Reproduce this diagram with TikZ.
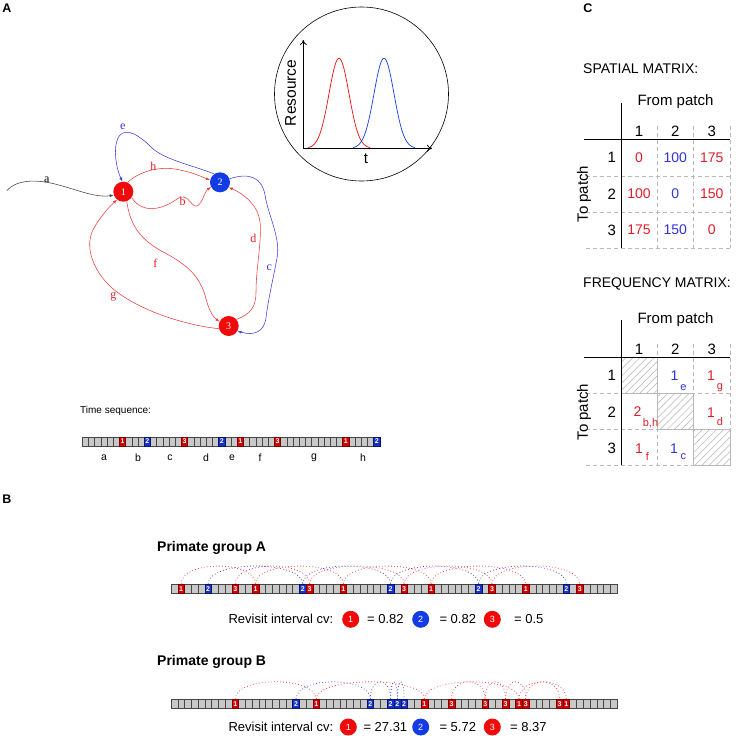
\documentclass[tikz,border=0pt]{standalone}
\usepackage{fontspec}
\setmainfont{Liberation Sans}
\newfontfamily\serfont{Liberation Serif}
\usetikzlibrary{arrows.meta,patterns.meta}
\definecolor{nodered}{RGB}{240,10,10}
\definecolor{nodeblue}{RGB}{20,60,230}
\definecolor{edgered}{RGB}{235,60,60}
\definecolor{edgeblue}{RGB}{60,60,220}
\definecolor{txtred}{RGB}{225,30,40}
\definecolor{txtblue}{RGB}{50,50,220}
\definecolor{cf1}{RGB}{210,0,0}
\definecolor{cf2}{RGB}{20,50,200}
\definecolor{cf3}{RGB}{210,0,0}
\definecolor{cd1}{RGB}{120,0,0}
\definecolor{cd2}{RGB}{10,20,110}
\definecolor{cd3}{RGB}{120,0,0}
\definecolor{cellgray}{RGB}{200,200,200}
\definecolor{celledge}{RGB}{70,70,70}
\definecolor{gridgray}{RGB}{185,185,185}
\newcommand{\fs}[1]{\fontsize{#1}{#1}\selectfont}
\newcommand{\seqrow}[6]{%
  \foreach \i in {0,...,#5}
    \node[seqcell=#3pt] (#1\i) at ({#2+(\i+0.5)*#3},#4) {};
  \foreach \i/\p in {#6}
    \node[seqcell=#3pt, fill=cf\p, draw=cd\p] (#1c\i) at ({#2+(\i+0.5)*#3},#4) {\p};
}
\tikzset{
  gnode/.style={circle, minimum size=20pt, inner sep=0pt, text=white, font=\serfont\fs{10}},
  edgeR/.style={draw=edgered, line width=0.55pt, -{Latex[length=4pt,width=3pt]}},
  edgeB/.style={draw=edgeblue, line width=0.55pt, -{Latex[length=4pt,width=3pt]}},
  edgeK/.style={draw=black!75, line width=0.55pt, -{Latex[length=4pt,width=3pt]}},
  elabel/.style={font=\serfont\fs{12}, inner sep=0pt},
  seqcell/.style={draw=celledge, fill=cellgray, minimum width=#1, minimum height=9pt,
    inner sep=0pt, line width=0.5pt, font=\bfseries\fs{7}, text=white},
  arcR/.style={draw=edgered, line width=0.75pt, dash pattern=on 0.75pt off 2.3pt},
  arcB/.style={draw=edgeblue, line width=0.75pt, dash pattern=on 0.75pt off 2.3pt},
  revc/.style={circle, minimum size=17pt, inner sep=0pt, text=white, font=\fs{9}},
  plain/.style={inner sep=0pt, font=\fs{13}},
  panel/.style={inner sep=0pt, font=\bfseries\fs{12.5}},
  mhdr/.style={inner sep=0pt, font=\fs{15}},
  mval/.style={inner sep=0pt, font=\fs{14}},
  msub/.style={inner sep=0pt, font=\fs{11}},
  grid/.style={draw=gridgray, line width=0.6pt, dash pattern=on 4pt off 3pt},
  hatch/.style={draw=gridgray, line width=0.5pt,
    pattern={Lines[angle=45,distance=5pt,line width=0.5pt]}, pattern color=black!30},
}
\begin{document}
\begin{tikzpicture}[x=1pt,y=-1pt]
\useasboundingbox (0,0) rectangle (736,736);

% panel labels
\node[panel] (pA) at (7,8) {A};
\node[panel] (pB) at (7,499) {B};
\node[panel] (pC) at (588,8) {C};

% ---------- graph ----------
\node[gnode, fill=nodered] (n1) at (123.3,191.7) {1};
\node[gnode, fill=nodeblue] (n2) at (220,182.3) {2};
\node[gnode, fill=nodered] (n3) at (228.7,326) {3};
\coordinate (astart) at (6.7,190.7);

\draw[edgeK] (astart) .. controls (16,180) and (35,179) .. (55,184) .. controls (75,189) and (95,198) .. (n1.200);
\draw[edgeR] (n1.65) .. controls (138,172) and (160,165) .. (180,170) .. controls (195,173) and (202,177) .. (n2.167);
\draw[edgeR] (n1.-35) .. controls (142,214) and (162,210) .. (177,199) .. controls (188,191) and (191,208) .. (197,206) .. controls (203,203) and (204,192) .. (n2.208);
\draw[edgeB] (n2.125) .. controls (195,166) and (165,160) .. (152,148) .. controls (140,136) and (125,125) .. (118,138) .. controls (113,148) and (116,168) .. (n1.95);
\draw[edgeB] (n2.20) .. controls (250,172) and (262,178) .. (265,195) .. controls (268,215) and (281,238) .. (277,258) .. controls (273,280) and (268,300) .. (266,318) .. controls (264,332) and (254,336) .. (n3.-30);
\draw[edgeR] (n3.40) .. controls (250,314) and (256,308) .. (256,292) .. controls (256,268) and (262,240) .. (260,222) .. controls (258,205) and (244,194) .. (n2.-30);
\draw[edgeR] (n1.-70) .. controls (130,225) and (140,240) .. (165,253) .. controls (192,267) and (200,280) .. (205,295) .. controls (208,308) and (212,316) .. (n3.155);
\draw[edgeR] (n3.195) .. controls (190,326) and (140,312) .. (112,288) .. controls (92,270) and (84,245) .. (94,228) .. controls (101,216) and (108,208) .. (n1.232);

\node[elabel, text=black] (la) at (46.7,179.3) {a};
\node[elabel, text=txtblue] (le) at (122.7,126.7) {e};
\node[elabel, text=txtred] (lh) at (153.3,166.7) {h};
\node[elabel, text=txtred] (lb) at (182.7,201) {b};
\node[elabel, text=txtblue] (lc) at (269.3,267.3) {c};
\node[elabel, text=txtred] (ld) at (253.3,238.3) {d};
\node[elabel, text=txtred] (lf) at (155.3,263.3) {f};
\node[elabel, text=txtred] (lg) at (113.3,296.7) {g};

% ---------- inset ----------
\node[circle, draw, line width=0.6pt, minimum size=174pt, inner sep=0pt] (inset) at (361.5,94) {};
\coordinate (ax0) at (303.3,148.3);
\coordinate (axy) at (303.3,40);
\coordinate (axx) at (432,148.3);
\draw[line width=0.8pt, -{To[length=5pt,width=7pt]}] (ax0) -- (axy);
\draw[line width=0.8pt, -{To[length=5pt,width=7pt]}] (ax0) -- (axx);
\draw[nodered, line width=0.7pt] plot[domain=-31:31, samples=90] ({339+\x},{148.3-90*exp(-(\x*\x)/200)});
\draw[nodeblue, line width=0.7pt] plot[domain=-31:31, samples=90] ({384+\x},{148.3-90*exp(-(\x*\x)/200)});
\node[inner sep=0pt, font=\fs{15.5}, rotate=90] (res) at (290.5,93) {Resource};
\node[inner sep=0pt, font=\fs{15}] (tlab) at (366,158.5) {t};

% ---------- time sequence ----------
\node[anchor=west, inner sep=0pt, font=\fs{10}] (tseq) at (80,411) {Time sequence:};
\seqrow{ts}{82.3}{6.2}{441.5}{47}{6/1,10/2,16/3,22/2,25/1,31/3,42/1,47/2}
\foreach \l/\x in {a/104,b/138,c/170,d/206,e/232,f/260,g/314,h/363}
  \node[inner sep=0pt, font=\fs{10.5}] (tl\l) at (\x,457.5) {\l};

% ---------- panel B ----------
\node[anchor=west, inner sep=0pt, font=\bfseries\fs{14}] (gAt) at (157,548) {Primate group A};
\seqrow{ga}{171}{6.758}{588.8}{65}{1/1,5/2,9/3,12/1,19/2,20/3,25/1,32/2,34/3,38/1,45/2,47/3,52/1,58/2,60/3}
\foreach \a/\b in {1/12,12/25,25/38,38/52, 9/20,20/34,34/47,47/60}
  \draw[arcR] (gac\a.north) .. controls +(0,-24) and +(0,-24) .. (gac\b.north);
\foreach \a/\b in {5/19,19/32,32/45,45/58}
  \draw[arcB] (gac\a.north) .. controls +(0,-24) and +(0,-24) .. (gac\b.north);
\node[anchor=west, plain] (rvA) at (228.3,619.3) {Revisit interval cv:};
\node[revc, fill=nodered] (rA1) at (350.7,619.3) {1};
\node[anchor=west, plain] (vA1) at (367,619.3) {= 0.82};
\node[revc, fill=nodeblue] (rA2) at (420.7,619.3) {2};
\node[anchor=west, plain] (vA2) at (439.3,619.3) {= 0.82};
\node[revc, fill=nodered] (rA3) at (492.3,619.3) {3};
\node[anchor=west, plain] (vA3) at (514,619.3) {= 0.5};

\node[anchor=west, inner sep=0pt, font=\bfseries\fs{14}] (gBt) at (157,662) {Primate group B};
\seqrow{gb}{171}{6.758}{703.8}{65}{9/1,18/2,21/1,29/2,32/2,33/2,34/2,37/1,41/3,46/3,49/3,51/1,52/3,57/3,58/1}
\foreach \a/\b in {9/21,21/37,37/51,51/58, 41/46,46/49,49/52,52/57}
  \draw[arcR] (gbc\a.north) .. controls +(0,-23) and +(0,-23) .. (gbc\b.north);
\foreach \a/\b in {18/29,29/32,32/33,33/34}
  \draw[arcB] (gbc\a.north) .. controls +(0,-23) and +(0,-23) .. (gbc\b.north);
\node[anchor=west, plain] (rvB) at (228.3,727) {Revisit interval cv:};
\node[revc, fill=nodered] (rB1) at (348.3,727) {1};
\node[anchor=west, plain] (vB1) at (363.3,727) {= 27.31};
\node[revc, fill=nodeblue] (rB2) at (420.7,727) {2};
\node[anchor=west, plain] (vB2) at (439.3,727) {= 5.72};
\node[revc, fill=nodered] (rB3) at (492.3,727) {3};
\node[anchor=west, plain] (vB3) at (510,727) {= 8.37};

% ---------- panel C : spatial ----------
\node[anchor=west, inner sep=0pt, font=\fs{14}] (stitle) at (583,69) {SPATIAL MATRIX:};
\node[mhdr] (sfrom) at (675.5,101.7) {From patch};
\foreach \y in {176,212,248.3} \draw[grid] (586,\y) -- (730,\y);
\foreach \x in {657.3,693.3,730} \draw[grid] (\x,126) -- (\x,248.3);
\draw[line width=0.8pt] (621,103.3) -- (621,248.3);
\draw[line width=0.8pt] (584,139.3) -- (730,139.3);
\foreach \c/\x in {1/639,2/675.3,3/711.7} \node[mhdr] (sc\c) at (\x,131.7) {\c};
\foreach \r/\y in {1/157.7,2/194,3/230} \node[mhdr] (sr\r) at (611.7,\y) {\r};
\node[mhdr, rotate=90] (sto) at (584,194) {To patch};
\node[mval, text=txtred] (s11) at (639,157.7) {0};
\node[mval, text=txtblue] (s12) at (675.3,157.7) {100};
\node[mval, text=txtred] (s13) at (711.7,157.7) {175};
\node[mval, text=txtred] (s21) at (639,194) {100};
\node[mval, text=txtblue] (s22) at (675.3,194) {0};
\node[mval, text=txtred] (s23) at (711.7,194) {150};
\node[mval, text=txtred] (s31) at (639,230) {175};
\node[mval, text=txtblue] (s32) at (675.3,230) {150};
\node[mval, text=txtred] (s33) at (711.7,230) {0};

% ---------- panel C : frequency ----------
\node[anchor=west, inner sep=0pt, font=\fs{14}] (ftitle) at (583,284) {FREQUENCY MATRIX:};
\node[mhdr] (ffrom) at (675.5,319.7) {From patch};
\draw[hatch] (621,357.3) rectangle (657.3,393);
\draw[hatch] (657.3,393) rectangle (693.3,429.3);
\draw[hatch] (693.3,429.3) rectangle (730,465);
\foreach \y in {393,429.3,465} \draw[grid] (586,\y) -- (730,\y);
\foreach \x in {657.3,693.3,730} \draw[grid] (\x,344) -- (\x,465);
\draw[line width=0.8pt] (621,320) -- (621,465);
\draw[line width=0.8pt] (584,357.3) -- (730,357.3);
\foreach \c/\x in {1/639,2/675.3,3/711.7} \node[mhdr] (fc\c) at (\x,349.7) {\c};
\foreach \r/\y in {1/375.7,2/412,3/448} \node[mhdr] (fr\r) at (611.7,\y) {\r};
\node[mhdr, rotate=90] (fto) at (584,412) {To patch};
\node[mval, text=txtblue] (f12) at (674.5,376) {1};
\node[msub, text=txtblue] (f12s) at (683.3,388) {e};
\node[mval, text=txtred] (f13) at (711,376) {1};
\node[msub, text=txtred] (f13s) at (720,388) {g};
\node[mval, text=txtred] (f21) at (637.5,412) {2};
\node[msub, text=txtred] (f21s) at (650.5,423) {b,h};
\node[mval, text=txtred] (f23) at (711,412.5) {1};
\node[msub, text=txtred] (f23s) at (720,422) {d};
\node[mval, text=txtred] (f31) at (639,448.3) {1};
\node[msub, text=txtred] (f31s) at (647.5,457) {f};
\node[mval, text=txtblue] (f32) at (674,448.3) {1};
\node[msub, text=txtblue] (f32s) at (683.3,457) {c};
\end{tikzpicture}
\end{document}
